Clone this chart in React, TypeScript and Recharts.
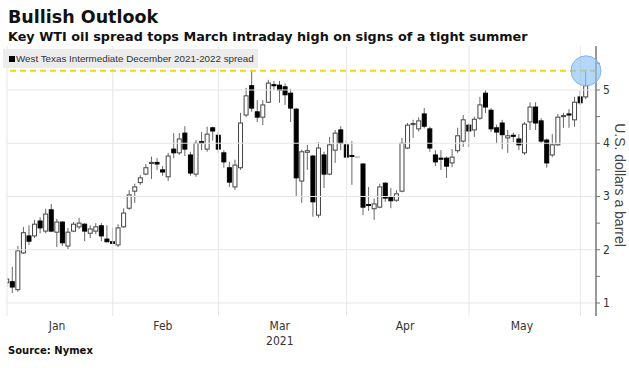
import React from 'react';
import { ComposedChart, Bar, XAxis, YAxis, ReferenceLine, ReferenceDot } from 'recharts';

// trading days Jan 4 2021 .. Jun 2 2021, one candle per session
const MONTHS = ['Jan', 'Feb', 'Mar', 'Apr', 'May'];
const MONTH_START = [0, 19, 38, 61, 83, 103];
const Y_TICKS = [1, 1.5, 2, 2.5, 3, 3.5, 4, 4.5, 5, 5.5];
const Y_GRID = [1, 2, 3, 4, 5];
const MARCH_HIGH = 5.36;

const OPEN = [
  1.38, 1.40, 1.25, 1.94, 2.26, 2.26, 2.54, 2.35, 2.75, 2.33, 2.52, 2.07, 2.35, 2.43, 2.48, 2.31, 2.35, 2.45, 2.20,
  2.15, 2.09, 2.43, 2.78, 3.10, 3.26, 3.42, 3.62, 3.64, 3.50, 3.37, 3.89, 3.82, 4.19, 3.78, 3.42, 4.03, 3.89, 4.29,
  4.15, 3.82, 3.54, 3.18, 3.54, 4.53, 5.08, 4.59, 4.49, 4.77, 5.10, 5.09, 5.06, 4.94, 4.64, 3.29, 3.83, 3.76, 2.65, 3.78, 3.42, 3.87, 4.25,
  3.97, 3.77, 3.74, 3.61, 2.85, 2.77, 2.80, 3.25, 3.00, 2.93, 3.10, 3.91, 4.35, 4.27, 4.55, 4.27, 3.78, 3.72, 3.72, 3.63, 3.86, 4.04,
  4.34, 4.25, 4.47, 4.94, 4.62, 4.29, 4.38, 4.10, 4.15, 4.08, 3.82, 4.40, 4.68, 4.42, 4.06, 3.78, 3.97, 4.50, 4.55, 4.44,
  4.87, 4.87,
];
const HIGH = [
  1.48, 1.68, 2.07, 2.43, 2.46, 2.56, 2.61, 2.77, 2.86, 2.58, 2.54, 2.41, 2.52, 2.60, 2.50, 2.46, 2.50, 2.50, 2.46,
  2.41, 2.48, 2.78, 3.12, 3.24, 3.40, 3.61, 3.75, 3.72, 3.57, 3.82, 4.19, 4.19, 4.32, 3.84, 4.06, 4.21, 4.31, 4.31,
  4.21, 3.87, 3.65, 3.69, 4.57, 5.04, 5.36, 4.81, 4.81, 5.19, 5.17, 5.17, 5.12, 5.02, 4.66, 3.88, 3.97, 3.78, 4.02, 3.84, 4.12, 4.25, 4.32,
  4.06, 4.04, 3.745, 3.63, 3.18, 2.96, 3.24, 3.27, 3.16, 3.12, 4.10, 4.38, 4.44, 4.49, 4.66, 4.31, 3.87, 3.87, 3.75, 3.89, 4.29, 4.53,
  4.37, 4.50, 4.87, 5.00, 4.66, 4.35, 4.44, 4.25, 4.20, 4.17, 4.40, 4.77, 4.77, 4.47, 4.09, 4.17, 4.55, 4.57, 4.64, 4.87,
  4.98, 5.38,
];
const LOW = [
  1.30, 1.19, 1.21, 1.92, 2.09, 2.22, 2.31, 2.31, 2.33, 2.05, 2.07, 2.01, 2.33, 2.39, 2.16, 2.22, 2.29, 2.16, 2.14,
  2.10, 2.05, 2.41, 2.75, 2.88, 3.22, 3.40, 3.33, 3.50, 3.39, 3.29, 3.72, 3.78, 3.76, 3.39, 3.37, 3.87, 3.84, 4.05,
  3.82, 3.54, 3.18, 3.12, 3.50, 4.49, 4.59, 4.40, 4.34, 4.76, 5.00, 4.76, 4.72, 4.40, 3.00, 2.88, 3.50, 2.62, 2.60, 3.16, 3.40, 3.63, 3.87,
  3.72, 3.22, 3.735, 2.65, 2.73, 2.56, 2.78, 2.90, 2.78, 2.90, 3.08, 3.89, 4.10, 4.22, 4.28, 3.84, 3.57, 3.50, 3.35, 3.55, 3.82, 3.93,
  3.93, 4.12, 4.44, 4.57, 4.21, 4.00, 3.89, 3.82, 4.02, 3.87, 3.78, 4.25, 4.25, 4.00, 3.54, 3.74, 3.95, 4.29, 4.29, 4.31,
  4.72, 4.83,
];
const CLOSE = [
  1.45, 1.30, 1.98, 2.32, 2.16, 2.48, 2.41, 2.67, 2.35, 2.52, 2.13, 2.33, 2.48, 2.50, 2.35, 2.39, 2.43, 2.26, 2.15,
  2.12, 2.41, 2.69, 3.03, 3.18, 3.35, 3.54, 3.64, 3.61, 3.46, 3.76, 3.82, 4.08, 3.89, 3.44, 4.00, 4.00, 4.17, 4.23,
  3.89, 3.65, 3.27, 3.59, 4.38, 4.89, 4.66, 4.49, 4.72, 5.13, 5.08, 5.00, 4.91, 4.66, 3.35, 3.84, 3.86, 2.90, 3.91, 3.42, 3.97, 4.19, 4.00,
  3.74, 3.75, 3.74, 2.80, 2.83, 2.86, 3.18, 2.97, 2.92, 3.05, 4.00, 4.34, 4.37, 4.42, 4.32, 3.91, 3.65, 3.70, 3.57, 3.74, 4.14, 4.44,
  4.23, 4.45, 4.72, 4.68, 4.27, 4.21, 4.16, 4.14, 4.13, 3.97, 4.36, 4.68, 4.38, 4.04, 3.63, 3.97, 4.49, 4.52, 4.53, 4.77,
  4.76, 5.08,
];

const data = OPEN.map((o, i) => ({
  i,
  open: o,
  high: HIGH[i],
  low: LOW[i],
  close: CLOSE[i],
  range: [LOW[i], HIGH[i]],
}));

const monthCenters = MONTHS.map((_, k) => (MONTH_START[k] + MONTH_START[k + 1] - 1) / 2);

const AXIS_FONT = "'Liberation Sans Narrow', 'DejaVu Sans Condensed', 'Liberation Sans', sans-serif";

const Candle = (props: any) => {
  const { x, y, width, height, payload } = props;
  if (x == null || !payload) return null;
  const { open, close, high, low } = payload;
  const top = Math.min(y, y + height);
  const h = Math.abs(height);
  const k = h / (high - low);
  const py = (v: number) => top + (high - v) * k;
  const cx = x + width / 2;
  const bTop = py(Math.max(open, close));
  const bBot = py(Math.min(open, close));
  if (open === close) {
    return (
      <g>
        <line x1={cx - 2.5} x2={cx + 2.5} y1={bTop} y2={bTop} stroke="#999" strokeWidth={1} />
      </g>
    );
  }
  const up = close > open;
  return (
    <g>
      <line x1={cx} x2={cx} y1={top} y2={top + h} stroke="#666" strokeWidth={1} />
      <rect
        x={cx - 2}
        y={bTop}
        width={4}
        height={Math.max(bBot - bTop, 1)}
        fill={up ? '#fff' : '#000'}
        stroke={up ? '#444' : '#000'}
        strokeWidth={1}
      />
    </g>
  );
};

const MonthTick = (props: any) => {
  const { x, y, payload } = props;
  const idx = monthCenters.indexOf(payload.value);
  const label = MONTHS[idx];
  return (
    <g>
      <text x={x} y={y + 6} textAnchor="middle" fontSize={12} fill="#333" fontFamily={AXIS_FONT}>{label}</text>
      {label === 'Mar' && (
        <text x={x} y={y + 21} textAnchor="middle" fontSize={12} fill="#333" fontFamily={AXIS_FONT}>2021</text>
      )}
    </g>
  );
};

const ValueTick = (props: any) => {
  const { x, y, payload } = props;
  if (payload.value % 1 !== 0) return null;
  return (
    <text x={x + 1} y={y + 4} fontSize={12} fill="#333" fontFamily={AXIS_FONT}>{payload.value}</text>
  );
};

export default function App() {
  return (
    <div style={{ position: 'absolute', left: 0, top: 0, width: 629, height: 368, background: '#fff', overflow: 'hidden', fontFamily: "'DejaVu Sans', sans-serif" }}>
      <div style={{ position: 'absolute', left: 8, top: 6, fontSize: 17.5, lineHeight: '22px', fontWeight: 'bold', color: '#111' }}>
        Bullish Outlook
      </div>
      <div style={{ position: 'absolute', left: 8, top: 29, fontSize: 12.8, lineHeight: '16px', fontWeight: 'bold', color: '#111', whiteSpace: 'nowrap' }}>
        Key WTI oil spread tops March intraday high on signs of a tight summer
      </div>

      <ComposedChart
        width={629}
        height={368}
        data={data}
        margin={{ top: 46, right: 0, left: 7, bottom: 22 }}
        style={{ position: 'absolute', left: 0, top: 0 }}
      >
        <XAxis
          dataKey="i"
          type="number"
          domain={[0, 105.8]}
          ticks={monthCenters}
          interval={0}
          axisLine={false}
          tickLine={false}
          height={30}
          tick={<MonthTick />}
          allowDataOverflow
        />
        <YAxis
          orientation="right"
          type="number"
          domain={[0.756, 5.826]}
          ticks={Y_TICKS}
          interval={0}
          allowDataOverflow
          width={33}
          tickSize={4}
          tickMargin={2}
          axisLine={{ stroke: '#777', strokeWidth: 1.5 }}
          tickLine={{ stroke: '#777' }}
          tick={<ValueTick />}
        />
        {Y_GRID.map(v => (
          <ReferenceLine key={'h' + v} y={v} stroke="#e6e6e6" strokeWidth={1} />
        ))}
        {MONTH_START.map(s => (
          <ReferenceLine key={'v' + s} x={s} stroke="#e6e6e6" strokeWidth={1} />
        ))}
        <ReferenceLine y={MARCH_HIGH} stroke="#f2d60f" strokeWidth={2} strokeDasharray="6 4" />
        <ReferenceDot
          x={data.length - 1}
          y={MARCH_HIGH}
          r={15}
          fill="#8cc2f2"
          fillOpacity={0.65}
          stroke="#7ab6ec"
          strokeWidth={1}
        />
        <Bar dataKey="range" barSize={5} shape={<Candle />} isAnimationActive={false} />
      </ComposedChart>

      <div style={{ position: 'absolute', left: 3, top: 49, width: 255, height: 19, background: '#ececec' }}>
        <div style={{ position: 'absolute', left: 6, top: 7, width: 6, height: 6, background: '#000' }} />
        <div style={{ position: 'absolute', left: 13, top: 0, lineHeight: '19px', fontSize: 9.8, color: '#333', whiteSpace: 'nowrap', fontFamily: "'Liberation Sans', sans-serif" }}>
          West Texas Intermediate December 2021-2022 spread
        </div>
      </div>

      <div style={{ position: 'absolute', left: 620, top: 185, transform: 'translate(-50%, -50%) rotate(90deg)', fontSize: 14, color: '#444', whiteSpace: 'nowrap', fontFamily: "'Liberation Sans', sans-serif" }}>
        U.S. dollars a barrel
      </div>

      <div style={{ position: 'absolute', left: 8, top: 344, fontSize: 10, lineHeight: '14px', fontWeight: 'bold', color: '#111' }}>
        Source: Nymex
      </div>
    </div>
  );
}
